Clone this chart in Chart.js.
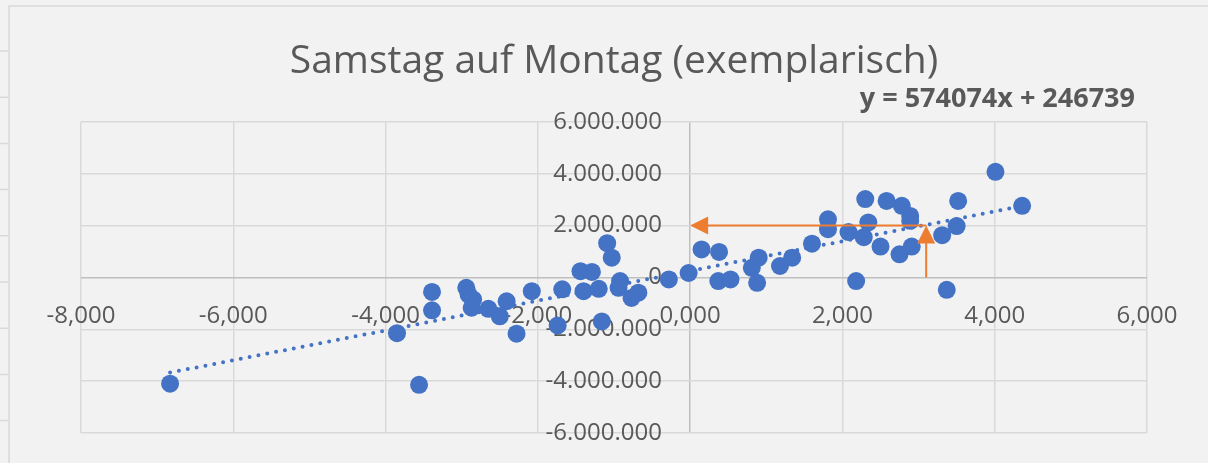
<!DOCTYPE html>
<html>
<head>
<meta charset="utf-8">
<script src="https://cdn.jsdelivr.net/npm/chart.js@4.4.0/dist/chart.umd.min.js"></script>
<style>
    html, body { margin: 0; padding: 0; background: #F2F2F2; }
    #wrap { width: 1208px; height: 463px; }
</style>
</head>
<body>
<div id="wrap"><canvas id="scatterChart" width="1208" height="463"></canvas></div>
<script>
// values (x in units, y in units)
const xValues = [
    -6.83, -3.85, -3.56, -3.39, -3.39, -2.94, -2.91, -2.85, -2.87, -2.65,
    -2.50, -2.41, -2.28, -2.08, -1.74, -1.68, -1.44, -1.29, -1.40, -1.20,
    -1.16, -1.09, -1.03, -0.92, -0.94, -0.77, -0.68, -0.28, -0.02, 0.15,
    0.38, 0.37, 0.53, 0.81, 0.90, 0.88, 1.18, 1.34, 1.60, 1.81,
    1.81, 2.08, 2.30, 2.58, 2.78, 2.89, 2.89, 2.34, 2.28, 2.50,
    2.75, 2.91, 3.31, 3.50, 3.52, 4.01, 4.36, 2.18, 3.37
];
const yValues = [
    -4100000, -2150000, -4140000, -560000, -1270000, -400000, -660000, -850000, -1170000, -1210000,
    -1500000, -920000, -2170000, -530000, -1850000, -460000, 240000, 210000, -530000, -440000,
    -1700000, 1320000, 760000, -140000, -400000, -790000, -590000, -80000, 170000, 1080000,
    980000, -140000, -80000, 370000, 760000, -210000, 440000, 760000, 1300000, 2240000,
    1860000, 1750000, 3020000, 2950000, 2760000, 2370000, 2180000, 2120000, 1550000, 1190000,
    890000, 1190000, 1630000, 1980000, 2950000, 4070000, 2760000, -140000, -480000
];

// linear trendline end points
const trendX = [-6.83, 4.36];
const trendY = [-3670000, 2750000];
const equationText = 'y = 574074x + 246739';

// orange marker: from x axis up to the trend, then over to the y axis
const markerX = 3.1;
const markerY = 2000000;

const xTickValues = [-8, -6, -4, -2, 0, 2, 4, 6];
const yTickValues = [-6000000, -4000000, -2000000, 0, 2000000, 4000000, 6000000];

const textColor = '#595959';
const gridColor = '#D9D9D9';
const axisColor = '#BFBFBF';
const fontFamily = "'Open Sans', 'Noto Sans', sans-serif";

function formatX(v) {
    return v.toFixed(3).replace('.', ',');
}

function formatY(v) {
    const s = String(Math.abs(v)).replace(/\B(?=(\d{3})+(?!\d))/g, '.');
    return (v < 0 ? '-' : '') + s;
}

// zero lines act as the axes, so they get the darker colour
function gridLineColor(ctx) {
    return ctx.tick && ctx.tick.value === 0 ? axisColor : gridColor;
}

function noLayoutSpace(scale) {
    scale.width = scale.isHorizontal() ? scale.width : 0;
    scale.height = scale.isHorizontal() ? 0 : scale.height;
    scale.paddingTop = scale.paddingBottom = scale.paddingLeft = scale.paddingRight = 0;
}

const framePlugin = {
    id: 'frame',
    beforeDraw(chart) {
        const c = chart.ctx;
        c.save();
        c.strokeStyle = gridColor;
        c.lineWidth = 1.5;
        c.beginPath();
        c.moveTo(9, chart.height);
        c.lineTo(9, 6);
        c.lineTo(chart.width, 6);
        for (let y = 51; y < chart.height; y += 46.2) {
            c.moveTo(0, y);
            c.lineTo(8, y);
        }
        c.stroke();
        c.restore();
    }
};

function arrowHead(c, tipX, tipY, dx, dy) {
    // dx, dy: unit direction the arrow points to
    const len = 18, half = 9;
    const bx = tipX - dx * len, by = tipY - dy * len;
    c.beginPath();
    c.moveTo(tipX, tipY);
    c.lineTo(bx - dy * half, by + dx * half);
    c.lineTo(bx + dy * half, by - dx * half);
    c.closePath();
    c.fill();
}

const markerPlugin = {
    id: 'marker',
    afterDatasetsDraw(chart) {
        const c = chart.ctx;
        const xs = chart.scales.x, ys = chart.scales.y;
        const px = xs.getPixelForValue(markerX);
        const py = ys.getPixelForValue(markerY);
        const x0 = xs.getPixelForValue(0);
        const y0 = ys.getPixelForValue(0);
        c.save();
        c.strokeStyle = '#ED7D31';
        c.fillStyle = '#ED7D31';
        c.lineWidth = 2;
        c.beginPath();
        c.moveTo(px, y0);
        c.lineTo(px, py + 16);
        c.moveTo(px, py);
        c.lineTo(x0 + 16, py);
        c.stroke();
        arrowHead(c, px, py, 0, -1);
        arrowHead(c, x0, py, -1, 0);

        // trendline equation
        c.fillStyle = textColor;
        c.font = 'bold 27px ' + fontFamily;
        c.textAlign = 'right';
        c.textBaseline = 'alphabetic';
        c.fillText(equationText, 1135, 107);
        c.restore();
    }
};

document.addEventListener('DOMContentLoaded', function() {
    const ctx = document.getElementById('scatterChart');
    new Chart(ctx, {
        type: 'scatter',
        data: {
            datasets: [{
                label: 'Samstag auf Montag',
                data: xValues.map((x, i) => ({ x: x, y: yValues[i] })),
                backgroundColor: '#4472C4',
                borderWidth: 0,
                pointRadius: 9,
                pointHoverRadius: 9
            }, {
                type: 'line',
                label: 'Linear',
                data: trendX.map((x, i) => ({ x: x, y: trendY[i] })),
                borderColor: '#4472C4',
                borderWidth: 4,
                borderDash: [0, 9],
                borderCapStyle: 'round',
                pointRadius: 0,
                fill: false
            }]
        },
        options: {
            responsive: false,
            animation: false,
            devicePixelRatio: 1,
            layout: {
                padding: { top: 0, right: 61, bottom: 30, left: 81 }
            },
            plugins: {
                legend: { display: false },
                tooltip: { enabled: false },
                title: {
                    display: true,
                    text: 'Samstag auf Montag (exemplarisch)',
                    color: textColor,
                    font: { family: fontFamily, size: 39, weight: 'normal', lineHeight: 1.2 },
                    padding: { top: 38, bottom: 37 }
                }
            },
            scales: {
                x: {
                    type: 'linear',
                    position: { y: 0 },
                    min: xTickValues[0],
                    max: xTickValues[xTickValues.length - 1],
                    afterFit: noLayoutSpace,
                    afterBuildTicks: (scale) => {
                        scale.ticks = xTickValues.map(v => ({ value: v }));
                    },
                    grid: { color: gridLineColor, lineWidth: 1.5, drawTicks: false },
                    border: { display: false },
                    ticks: {
                        color: textColor,
                        font: { family: fontFamily, size: 24 },
                        padding: 24,
                        maxRotation: 0,
                        callback: (v) => formatX(v)
                    }
                },
                y: {
                    type: 'linear',
                    // labels sit a little left of the zero line
                    position: { x: -0.37 },
                    min: yTickValues[0],
                    max: yTickValues[yTickValues.length - 1],
                    afterFit: noLayoutSpace,
                    afterBuildTicks: (scale) => {
                        scale.ticks = yTickValues.map(v => ({ value: v }));
                    },
                    grid: { color: gridLineColor, lineWidth: 1.5, drawTicks: false },
                    border: { display: false },
                    ticks: {
                        color: textColor,
                        font: { family: fontFamily, size: 24 },
                        callback: (v) => formatY(v)
                    }
                }
            }
        },
        plugins: [framePlugin, markerPlugin]
    });
});
</script>
</body>
</html>
